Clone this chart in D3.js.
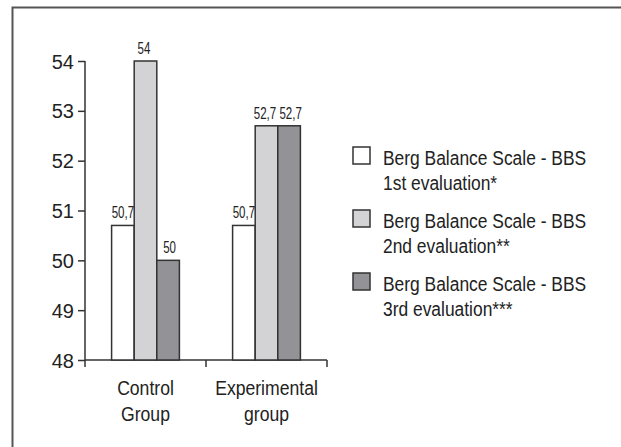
<!DOCTYPE html>
<html>
<head>
<meta charset="utf-8">
<title>Berg Balance Scale</title>
<style>
  body { margin: 0; background: #fff; }
  text { font-family: "Liberation Sans", Arial, sans-serif; fill: #222; }
</style>
<script src="https://d3js.org/d3.v7.min.js"></script>
</head>
<body>
<div id="chart"></div>
<script>
// data
var groups = ["Control Group", "Experimental group"];
var groupLines = [["Control", "Group"], ["Experimental", "group"]];
var seriesNames = ["Berg Balance Scale - BBS|1st evaluation*",
                   "Berg Balance Scale - BBS|2nd evaluation**",
                   "Berg Balance Scale - BBS|3rd evaluation***"];
var control = [50.7, 54, 50];
var experimental = [50.7, 52.7, 52.7];
var valueLabels = [["50,7", "54", "50"], ["50,7", "52,7", "52,7"]];
var yTicks = [48, 49, 50, 51, 52, 53, 54];

var colors = ["#ffffff", "#d3d3d5", "#939397"];
var labelNudge = [0, -1.5, 1.5];

var W = 621, H = 447;

// the original uses a condensed face; squeeze the glyphs horizontally
function condense(sel, f) {
  sel.each(function() {
    var w = this.getComputedTextLength();
    d3.select(this).attr("textLength", w * f).attr("lengthAdjust", "spacingAndGlyphs");
  });
}

var svg = d3.select("#chart").append("svg")
  .attr("width", W)
  .attr("height", H);

// frame (left + top only)
svg.append("path")
  .attr("d", "M12.5," + H + "V7.5H" + W)
  .attr("fill", "none")
  .attr("stroke", "#555")
  .attr("stroke-width", 2);

var y = d3.scaleLinear().domain([48, 54]).range([360, 61]);
var x = d3.scaleBand().domain(groups).range([85, 327]);
var barW = 22.6;
var xs = d3.scaleBand().domain([0, 1, 2]).range([-barW * 1.5, barW * 1.5]);

// y axis
var yAxis = svg.append("g")
  .attr("transform", "translate(85,0)")
  .call(d3.axisLeft(y).tickValues(yTicks).tickSize(7).tickPadding(4).tickFormat(d3.format("d")));
yAxis.select(".domain").attr("stroke", "#333").attr("stroke-width", 1.5).attr("d", "M0," + y(54) + "V" + y(48));
yAxis.selectAll(".tick line").attr("stroke", "#333").attr("stroke-width", 1.5);
yAxis.selectAll(".tick text").style("font-size", "20px").attr("fill", "#222").attr("dy", "0.35em");

// x axis
var xAxis = svg.append("g")
  .attr("transform", "translate(0," + y(48) + ")");
xAxis.append("line")
  .attr("x1", x.range()[0]).attr("x2", x.range()[1])
  .attr("stroke", "#333").attr("stroke-width", 1.5);
xAxis.selectAll(".xt")
  .data([0, 1, 2]).enter()
  .append("line")
  .attr("x1", d => x.range()[0] + d * x.step())
  .attr("x2", d => x.range()[0] + d * x.step())
  .attr("y1", 0).attr("y2", 7)
  .attr("stroke", "#333").attr("stroke-width", 1.5);

var catText = xAxis.selectAll(".cat")
  .data(groups).enter()
  .append("text")
  .attr("text-anchor", "middle")
  .style("font-size", "20px");
catText.selectAll("tspan")
  .data((d, i) => groupLines[i]).enter()
  .append("tspan")
  .attr("x", function() { return x(d3.select(this.parentNode).datum()) + x.bandwidth() / 2; })
  .attr("y", (d, i) => 35 + i * 26)
  .text(d => d);
condense(catText.selectAll("tspan"), 0.88);

// bars
var data = [control, experimental];
var gBars = svg.selectAll(".group")
  .data(groups).enter()
  .append("g")
  .attr("transform", d => "translate(" + (x(d) + x.bandwidth() / 2) + ",0)");

gBars.selectAll("rect")
  .data((d, i) => data[i]).enter()
  .append("rect")
  .attr("x", (d, j) => xs(j))
  .attr("width", xs.bandwidth())
  .attr("y", d => y(d))
  .attr("height", d => y(48) - y(d))
  .attr("fill", (d, j) => colors[j])
  .attr("stroke", "#333")
  .attr("stroke-width", 1.5);

// value labels, squeezed with a transform so their boxes stay narrow
gBars.selectAll(".val")
  .data((d, i) => data[i].map((v, j) => ({v: v, lab: valueLabels[i][j]}))).enter()
  .append("text")
  .attr("transform", (d, j) => "translate(" + (xs(j) + xs.bandwidth() / 2 + labelNudge[j]) + "," + (y(d.v) - 7) + ") scale(0.72,1)")
  .attr("text-anchor", "middle")
  .style("font-size", "16px")
  .text(d => d.lab);

// legend
var legend = svg.append("g").attr("transform", "translate(353,147)");
var item = legend.selectAll(".item")
  .data(seriesNames).enter()
  .append("g")
  .attr("transform", (d, i) => "translate(0," + i * 63 + ")");
item.append("rect")
  .attr("width", 17).attr("height", 17)
  .attr("fill", (d, i) => colors[i])
  .attr("stroke", "#333").attr("stroke-width", 1.5);
var legLines = item.append("text")
  .style("font-size", "20px")
  .selectAll("tspan")
  .data(d => d.split("|")).enter()
  .append("tspan")
  .attr("x", 30)
  .attr("y", (d, i) => 18 + i * 25)
  .text(d => d);
condense(legLines, 0.87);
</script>
</body>
</html>
